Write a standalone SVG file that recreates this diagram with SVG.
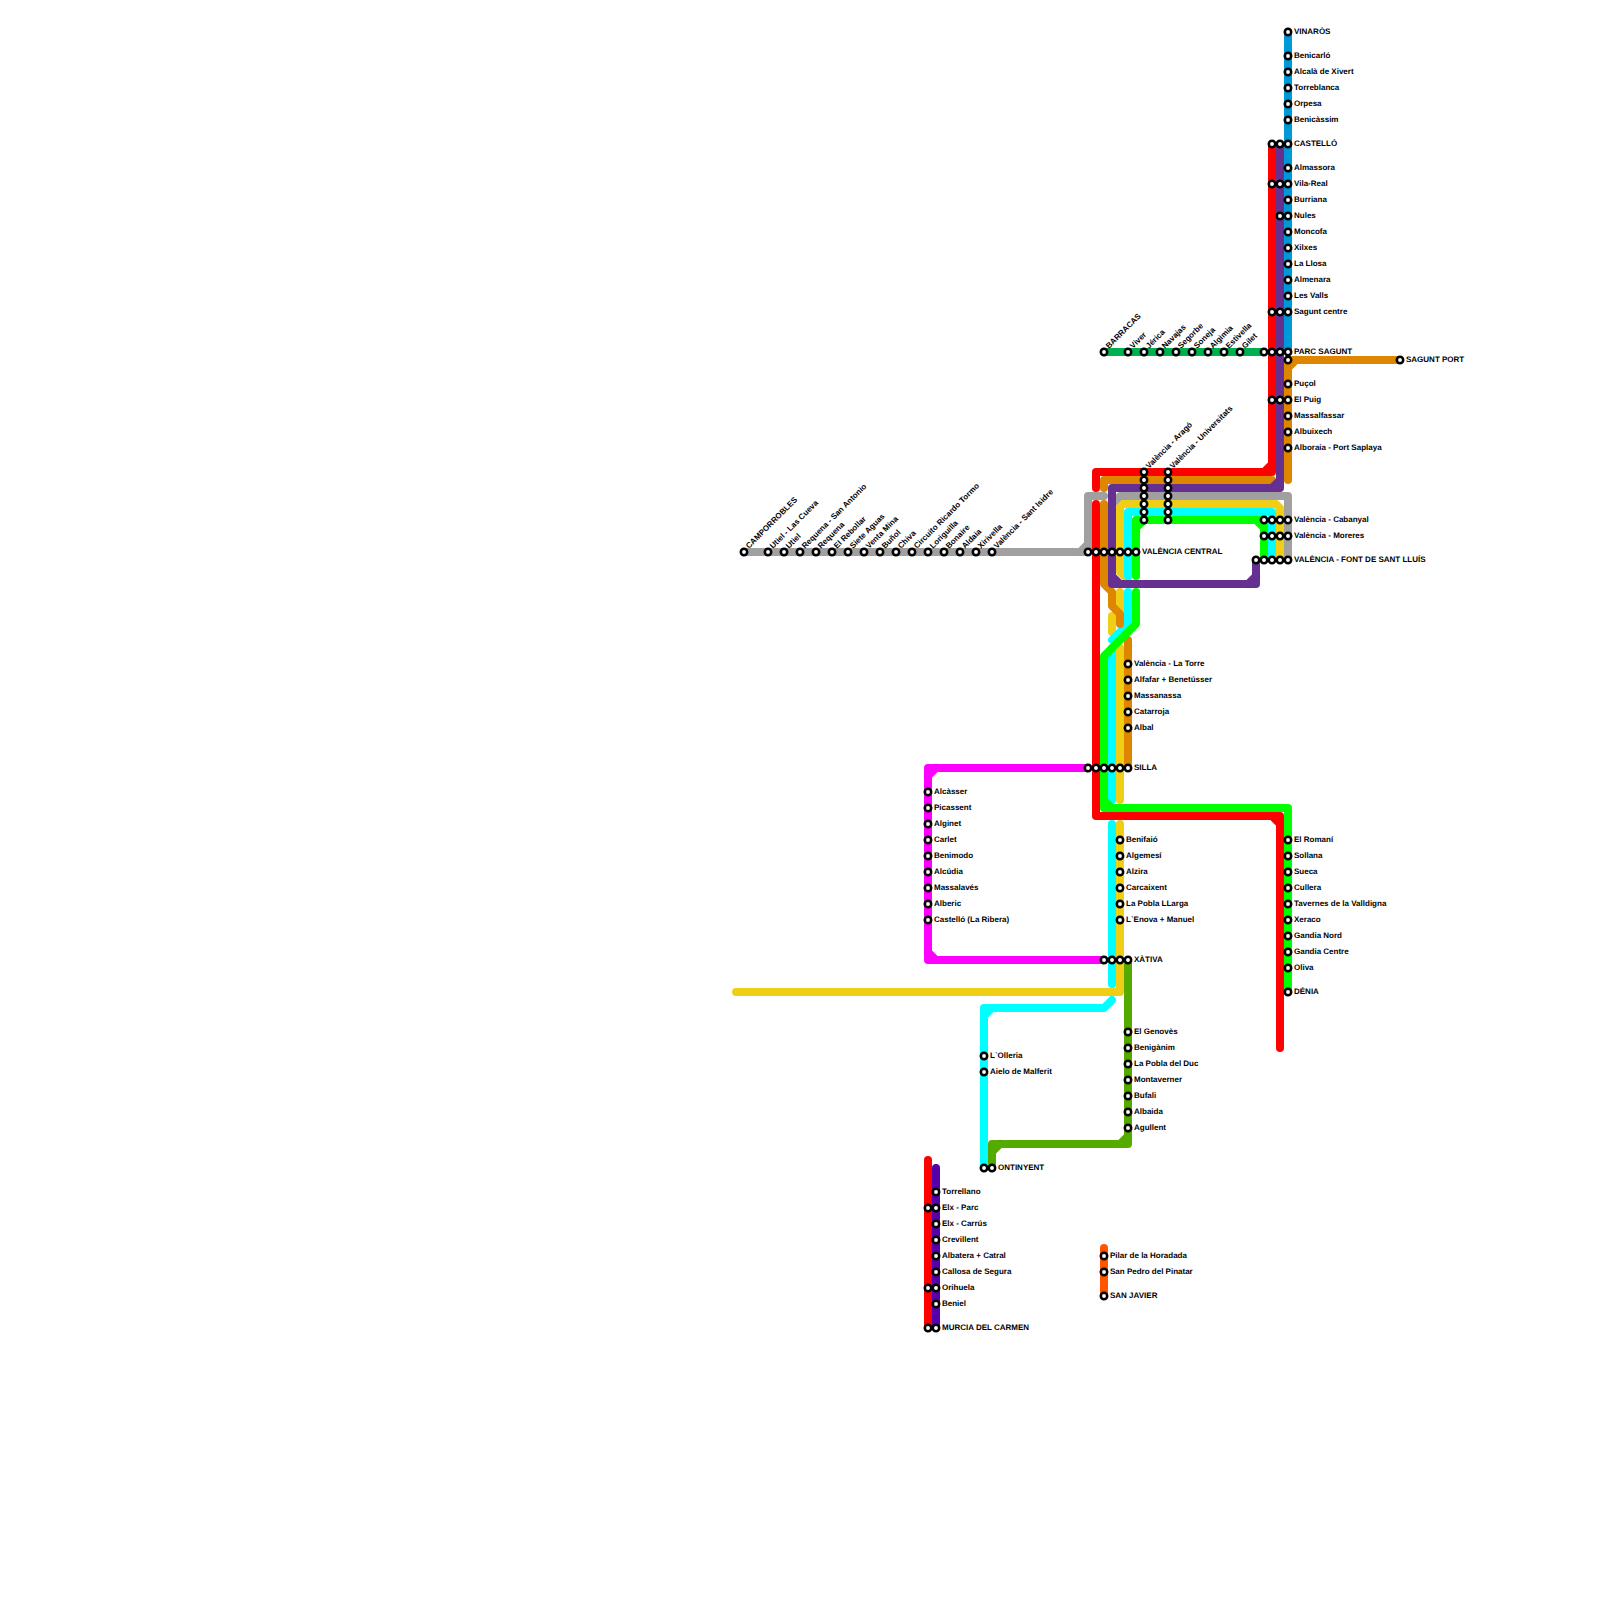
<svg xmlns="http://www.w3.org/2000/svg" width="1600" height="1600" viewBox="0 0 1600 1600">
<style>
.l{fill:none;stroke-width:8;stroke-linecap:round;stroke-linejoin:round}
circle{fill:#fff;stroke:#000;stroke-width:2.5}
text{font-family:"Liberation Sans",Arial,sans-serif;font-size:8px;font-weight:bold;fill:#000;text-rendering:geometricPrecision}
</style>
<rect width="1600" height="1600" fill="#fff"/>
<g id="connectors">
<path class="l" stroke="#ff00ff" d="M1088,768H928V960H1104M936,768L928,776M928,952L936,960"/>
<path class="l" stroke="#f0ce15" d="M1128,580L1120,572V504H1276L1280,508V560M1120,592V612M1112,616V632M1120,648V800M1120,824V992H736"/>
<path class="l" stroke="#a0a0a0" d="M744,552H1088V496H1104M1080,552L1088,544M1114,502L1120,496H1288V560"/>
<path class="l" stroke="#00ffff" d="M1128,576V512H1272V560M1128,592V624L1112,640M1112,648V800M1112,824V984M1112,1000L1104,1008H984V1168M984,1016L992,1008"/>
<path class="l" stroke="#df8600" d="M1272,480H1104V488M1104,504V584L1112,592V606L1120,614V624M1128,640V768M1400,360H1288V480M1288,368L1296,360"/>
<path class="l" stroke="#00ff00" d="M1136,576V520H1264V560M1136,528L1144,520M1256,520L1264,528M1136,592V624L1104,656V808H1288V992M1104,800L1112,808"/>
<path class="l" stroke="#ff0000" d="M1272,144V472H1096V488M1272,464L1264,472M1096,504V816H1280V1048M1272,816L1280,824"/>
<path class="l" stroke="#663090" d="M1280,144V488H1112V584H1256V560M1280,480L1272,488M1112,576L1120,584M1256,576L1248,584"/>
<path class="l" stroke="#0099d8" d="M1288,32V352"/>
<path class="l" stroke="#00b050" d="M1104,352H1264"/>
<path class="l" stroke="#55aa00" d="M1128,960V1144H992V1168M1128,1136L1120,1144M992,1152L1000,1144"/>
<path class="l" stroke="#ff0000" d="M928,1160V1328"/>
<path class="l" stroke="#5500aa" d="M936,1168V1328"/>
<path class="l" stroke="#ff5500" d="M1104,1248V1296"/>
</g>
<g id="n-campo"><circle cx="744" cy="552" r="3.2"/><text transform="translate(749,549) rotate(-45)">CAMPORROBLES</text></g>
<g id="n-lascueva"><circle cx="768" cy="552" r="3.2"/><text transform="translate(773,549) rotate(-45)">Utiel - Las Cueva</text></g>
<g id="n-utiel"><circle cx="784" cy="552" r="3.2"/><text transform="translate(789,549) rotate(-45)">Utiel</text></g>
<g id="n-reqsa"><circle cx="800" cy="552" r="3.2"/><text transform="translate(805,549) rotate(-45)">Requena - San Antonio</text></g>
<g id="n-req"><circle cx="816" cy="552" r="3.2"/><text transform="translate(821,549) rotate(-45)">Requena</text></g>
<g id="n-rebollar"><circle cx="832" cy="552" r="3.2"/><text transform="translate(837,549) rotate(-45)">El Rebollar</text></g>
<g id="n-siete"><circle cx="848" cy="552" r="3.2"/><text transform="translate(853,549) rotate(-45)">Siete Aguas</text></g>
<g id="n-venta"><circle cx="864" cy="552" r="3.2"/><text transform="translate(869,549) rotate(-45)">Venta Mina</text></g>
<g id="n-bunol"><circle cx="880" cy="552" r="3.2"/><text transform="translate(885,549) rotate(-45)">Buñol</text></g>
<g id="n-chiva"><circle cx="896" cy="552" r="3.2"/><text transform="translate(901,549) rotate(-45)">Chiva</text></g>
<g id="n-circuito"><circle cx="912" cy="552" r="3.2"/><text transform="translate(917,549) rotate(-45)">Circuito Ricardo Tormo</text></g>
<g id="n-lorig"><circle cx="928" cy="552" r="3.2"/><text transform="translate(933,549) rotate(-45)">Loriguilla</text></g>
<g id="n-bonaire"><circle cx="944" cy="552" r="3.2"/><text transform="translate(949,549) rotate(-45)">Bonaire</text></g>
<g id="n-aldaia"><circle cx="960" cy="552" r="3.2"/><text transform="translate(965,549) rotate(-45)">Aldaia</text></g>
<g id="n-xirivella"><circle cx="976" cy="552" r="3.2"/><text transform="translate(981,549) rotate(-45)">Xirivella</text></g>
<g id="n-isidre"><circle cx="992" cy="552" r="3.2"/><text transform="translate(997,549) rotate(-45)">València - Sant Isidre</text></g>
<g id="n-barracas"><circle cx="1104" cy="352" r="3.2"/><text transform="translate(1109,349) rotate(-45)">BARRACAS</text></g>
<g id="n-viver"><circle cx="1128" cy="352" r="3.2"/><text transform="translate(1133,349) rotate(-45)">Viver</text></g>
<g id="n-jerica"><circle cx="1144" cy="352" r="3.2"/><text transform="translate(1149,349) rotate(-45)">Jérica</text></g>
<g id="n-navajas"><circle cx="1160" cy="352" r="3.2"/><text transform="translate(1165,349) rotate(-45)">Navajas</text></g>
<g id="n-segorbe"><circle cx="1176" cy="352" r="3.2"/><text transform="translate(1181,349) rotate(-45)">Segorbe</text></g>
<g id="n-soneja"><circle cx="1192" cy="352" r="3.2"/><text transform="translate(1197,349) rotate(-45)">Soneja</text></g>
<g id="n-algimia"><circle cx="1208" cy="352" r="3.2"/><text transform="translate(1213,349) rotate(-45)">Algimia</text></g>
<g id="n-estivella"><circle cx="1224" cy="352" r="3.2"/><text transform="translate(1229,349) rotate(-45)">Estivella</text></g>
<g id="n-gilet"><circle cx="1240" cy="352" r="3.2"/><text transform="translate(1245,349) rotate(-45)">Gilet</text></g>
<g id="n-arago"><circle cx="1144" cy="472" r="3.2"/><circle cx="1144" cy="480" r="3.2"/><circle cx="1144" cy="488" r="3.2"/><circle cx="1144" cy="496" r="3.2"/><circle cx="1144" cy="504" r="3.2"/><circle cx="1144" cy="512" r="3.2"/><circle cx="1144" cy="520" r="3.2"/><text transform="translate(1149,469) rotate(-45)">València - Aragó</text></g>
<g id="n-univ"><circle cx="1168" cy="472" r="3.2"/><circle cx="1168" cy="480" r="3.2"/><circle cx="1168" cy="488" r="3.2"/><circle cx="1168" cy="496" r="3.2"/><circle cx="1168" cy="504" r="3.2"/><circle cx="1168" cy="512" r="3.2"/><circle cx="1168" cy="520" r="3.2"/><text transform="translate(1173,469) rotate(-45)">València - Universitats</text></g>
<g id="n-vinaros"><circle cx="1288" cy="32" r="3.2"/><text x="1294" y="33.5">VINARÒS</text></g>
<g id="n-benicarlo"><circle cx="1288" cy="56" r="3.2"/><text x="1294" y="57.5">Benicarló</text></g>
<g id="n-alcala"><circle cx="1288" cy="72" r="3.2"/><text x="1294" y="73.5">Alcalà de Xivert</text></g>
<g id="n-torreblanca"><circle cx="1288" cy="88" r="3.2"/><text x="1294" y="89.5">Torreblanca</text></g>
<g id="n-orpesa"><circle cx="1288" cy="104" r="3.2"/><text x="1294" y="105.5">Orpesa</text></g>
<g id="n-benicassim"><circle cx="1288" cy="120" r="3.2"/><text x="1294" y="121.5">Benicàssim</text></g>
<g id="n-castello"><circle cx="1272" cy="144" r="3.2"/><circle cx="1280" cy="144" r="3.2"/><circle cx="1288" cy="144" r="3.2"/><text x="1294" y="145.5">CASTELLÓ</text></g>
<g id="n-almassora"><circle cx="1288" cy="168" r="3.2"/><text x="1294" y="169.5">Almassora</text></g>
<g id="n-vilareal"><circle cx="1272" cy="184" r="3.2"/><circle cx="1280" cy="184" r="3.2"/><circle cx="1288" cy="184" r="3.2"/><text x="1294" y="185.5">Vila-Real</text></g>
<g id="n-burriana"><circle cx="1288" cy="200" r="3.2"/><text x="1294" y="201.5">Burriana</text></g>
<g id="n-nules"><circle cx="1280" cy="216" r="3.2"/><circle cx="1288" cy="216" r="3.2"/><text x="1294" y="217.5">Nules</text></g>
<g id="n-moncofa"><circle cx="1288" cy="232" r="3.2"/><text x="1294" y="233.5">Moncofa</text></g>
<g id="n-xilxes"><circle cx="1288" cy="248" r="3.2"/><text x="1294" y="249.5">Xilxes</text></g>
<g id="n-llosa"><circle cx="1288" cy="264" r="3.2"/><text x="1294" y="265.5">La Llosa</text></g>
<g id="n-almenara"><circle cx="1288" cy="280" r="3.2"/><text x="1294" y="281.5">Almenara</text></g>
<g id="n-valls"><circle cx="1288" cy="296" r="3.2"/><text x="1294" y="297.5">Les Valls</text></g>
<g id="n-saguntc"><circle cx="1272" cy="312" r="3.2"/><circle cx="1280" cy="312" r="3.2"/><circle cx="1288" cy="312" r="3.2"/><text x="1294" y="313.5">Sagunt centre</text></g>
<g id="n-parc"><circle cx="1264" cy="352" r="3.2"/><circle cx="1272" cy="352" r="3.2"/><circle cx="1280" cy="352" r="3.2"/><circle cx="1288" cy="352" r="3.2"/><circle cx="1288" cy="360" r="3.2"/><text x="1294" y="353.5">PARC SAGUNT</text></g>
<g id="n-port"><circle cx="1400" cy="360" r="3.2"/><text x="1406" y="361.5">SAGUNT PORT</text></g>
<g id="n-pucol"><circle cx="1288" cy="384" r="3.2"/><text x="1294" y="385.5">Puçol</text></g>
<g id="n-puig"><circle cx="1272" cy="400" r="3.2"/><circle cx="1280" cy="400" r="3.2"/><circle cx="1288" cy="400" r="3.2"/><text x="1294" y="401.5">El Puig</text></g>
<g id="n-massalf"><circle cx="1288" cy="416" r="3.2"/><text x="1294" y="417.5">Massalfassar</text></g>
<g id="n-albuixech"><circle cx="1288" cy="432" r="3.2"/><text x="1294" y="433.5">Albuixech</text></g>
<g id="n-alboraia"><circle cx="1288" cy="448" r="3.2"/><text x="1294" y="449.5">Alboraia - Port Saplaya</text></g>
<g id="n-cabanyal"><circle cx="1264" cy="520" r="3.2"/><circle cx="1272" cy="520" r="3.2"/><circle cx="1280" cy="520" r="3.2"/><circle cx="1288" cy="520" r="3.2"/><text x="1294" y="521.5">València - Cabanyal</text></g>
<g id="n-moreres"><circle cx="1264" cy="536" r="3.2"/><circle cx="1272" cy="536" r="3.2"/><circle cx="1280" cy="536" r="3.2"/><circle cx="1288" cy="536" r="3.2"/><text x="1294" y="537.5">València - Moreres</text></g>
<g id="n-font"><circle cx="1256" cy="560" r="3.2"/><circle cx="1264" cy="560" r="3.2"/><circle cx="1272" cy="560" r="3.2"/><circle cx="1280" cy="560" r="3.2"/><circle cx="1288" cy="560" r="3.2"/><text x="1294" y="561.5">VALÈNCIA - FONT DE SANT LLUÍS</text></g>
<g id="n-central"><circle cx="1088" cy="552" r="3.2"/><circle cx="1096" cy="552" r="3.2"/><circle cx="1104" cy="552" r="3.2"/><circle cx="1112" cy="552" r="3.2"/><circle cx="1120" cy="552" r="3.2"/><circle cx="1128" cy="552" r="3.2"/><circle cx="1136" cy="552" r="3.2"/><text x="1142" y="553.5">VALÈNCIA CENTRAL</text></g>
<g id="n-torre"><circle cx="1128" cy="664" r="3.2"/><text x="1134" y="665.5">València - La Torre</text></g>
<g id="n-alfafar"><circle cx="1128" cy="680" r="3.2"/><text x="1134" y="681.5">Alfafar + Benetússer</text></g>
<g id="n-massanassa"><circle cx="1128" cy="696" r="3.2"/><text x="1134" y="697.5">Massanassa</text></g>
<g id="n-catarroja"><circle cx="1128" cy="712" r="3.2"/><text x="1134" y="713.5">Catarroja</text></g>
<g id="n-albal"><circle cx="1128" cy="728" r="3.2"/><text x="1134" y="729.5">Albal</text></g>
<g id="n-silla"><circle cx="1088" cy="768" r="3.2"/><circle cx="1096" cy="768" r="3.2"/><circle cx="1104" cy="768" r="3.2"/><circle cx="1112" cy="768" r="3.2"/><circle cx="1120" cy="768" r="3.2"/><circle cx="1128" cy="768" r="3.2"/><text x="1134" y="769.5">SILLA</text></g>
<g id="n-alcasser"><circle cx="928" cy="792" r="3.2"/><text x="934" y="793.5">Alcàsser</text></g>
<g id="n-picassent"><circle cx="928" cy="808" r="3.2"/><text x="934" y="809.5">Picassent</text></g>
<g id="n-alginet"><circle cx="928" cy="824" r="3.2"/><text x="934" y="825.5">Alginet</text></g>
<g id="n-carlet"><circle cx="928" cy="840" r="3.2"/><text x="934" y="841.5">Carlet</text></g>
<g id="n-benimodo"><circle cx="928" cy="856" r="3.2"/><text x="934" y="857.5">Benimodo</text></g>
<g id="n-alcudia"><circle cx="928" cy="872" r="3.2"/><text x="934" y="873.5">Alcúdia</text></g>
<g id="n-massalaves"><circle cx="928" cy="888" r="3.2"/><text x="934" y="889.5">Massalavés</text></g>
<g id="n-alberic"><circle cx="928" cy="904" r="3.2"/><text x="934" y="905.5">Alberic</text></g>
<g id="n-castellor"><circle cx="928" cy="920" r="3.2"/><text x="934" y="921.5">Castelló (La Ribera)</text></g>
<g id="n-benifaio"><circle cx="1120" cy="840" r="3.2"/><text x="1126" y="841.5">Benifaió</text></g>
<g id="n-algemesi"><circle cx="1120" cy="856" r="3.2"/><text x="1126" y="857.5">Algemesí</text></g>
<g id="n-alzira"><circle cx="1120" cy="872" r="3.2"/><text x="1126" y="873.5">Alzira</text></g>
<g id="n-carcaixent"><circle cx="1120" cy="888" r="3.2"/><text x="1126" y="889.5">Carcaixent</text></g>
<g id="n-pobla"><circle cx="1120" cy="904" r="3.2"/><text x="1126" y="905.5">La Pobla LLarga</text></g>
<g id="n-enova"><circle cx="1120" cy="920" r="3.2"/><text x="1126" y="921.5">L`Enova + Manuel</text></g>
<g id="n-xativa"><circle cx="1104" cy="960" r="3.2"/><circle cx="1112" cy="960" r="3.2"/><circle cx="1120" cy="960" r="3.2"/><circle cx="1128" cy="960" r="3.2"/><text x="1134" y="961.5">XÀTIVA</text></g>
<g id="n-romani"><circle cx="1288" cy="840" r="3.2"/><text x="1294" y="841.5">El Romaní</text></g>
<g id="n-sollana"><circle cx="1288" cy="856" r="3.2"/><text x="1294" y="857.5">Sollana</text></g>
<g id="n-sueca"><circle cx="1288" cy="872" r="3.2"/><text x="1294" y="873.5">Sueca</text></g>
<g id="n-cullera"><circle cx="1288" cy="888" r="3.2"/><text x="1294" y="889.5">Cullera</text></g>
<g id="n-tavernes"><circle cx="1288" cy="904" r="3.2"/><text x="1294" y="905.5">Tavernes de la Valldigna</text></g>
<g id="n-xeraco"><circle cx="1288" cy="920" r="3.2"/><text x="1294" y="921.5">Xeraco</text></g>
<g id="n-gnord"><circle cx="1288" cy="936" r="3.2"/><text x="1294" y="937.5">Gandia Nord</text></g>
<g id="n-gcentre"><circle cx="1288" cy="952" r="3.2"/><text x="1294" y="953.5">Gandia Centre</text></g>
<g id="n-oliva"><circle cx="1288" cy="968" r="3.2"/><text x="1294" y="969.5">Oliva</text></g>
<g id="n-denia"><circle cx="1288" cy="992" r="3.2"/><text x="1294" y="993.5">DÉNIA</text></g>
<g id="n-genoves"><circle cx="1128" cy="1032" r="3.2"/><text x="1134" y="1033.5">El Genovès</text></g>
<g id="n-beniganim"><circle cx="1128" cy="1048" r="3.2"/><text x="1134" y="1049.5">Benigànim</text></g>
<g id="n-pobladuc"><circle cx="1128" cy="1064" r="3.2"/><text x="1134" y="1065.5">La Pobla del Duc</text></g>
<g id="n-montaverner"><circle cx="1128" cy="1080" r="3.2"/><text x="1134" y="1081.5">Montaverner</text></g>
<g id="n-bufali"><circle cx="1128" cy="1096" r="3.2"/><text x="1134" y="1097.5">Bufali</text></g>
<g id="n-albaida"><circle cx="1128" cy="1112" r="3.2"/><text x="1134" y="1113.5">Albaida</text></g>
<g id="n-agullent"><circle cx="1128" cy="1128" r="3.2"/><text x="1134" y="1129.5">Agullent</text></g>
<g id="n-olleria"><circle cx="984" cy="1056" r="3.2"/><text x="990" y="1057.5">L`Olleria</text></g>
<g id="n-aielo"><circle cx="984" cy="1072" r="3.2"/><text x="990" y="1073.5">Aielo de Malferit</text></g>
<g id="n-ontinyent"><circle cx="984" cy="1168" r="3.2"/><circle cx="992" cy="1168" r="3.2"/><text x="998" y="1169.5">ONTINYENT</text></g>
<g id="n-torrellano"><circle cx="936" cy="1192" r="3.2"/><text x="942" y="1193.5">Torrellano</text></g>
<g id="n-elxp"><circle cx="928" cy="1208" r="3.2"/><circle cx="936" cy="1208" r="3.2"/><text x="942" y="1209.5">Elx - Parc</text></g>
<g id="n-elxc"><circle cx="936" cy="1224" r="3.2"/><text x="942" y="1225.5">Elx - Carrús</text></g>
<g id="n-crevillent"><circle cx="936" cy="1240" r="3.2"/><text x="942" y="1241.5">Crevillent</text></g>
<g id="n-albatera"><circle cx="936" cy="1256" r="3.2"/><text x="942" y="1257.5">Albatera + Catral</text></g>
<g id="n-callosa"><circle cx="936" cy="1272" r="3.2"/><text x="942" y="1273.5">Callosa de Segura</text></g>
<g id="n-orihuela"><circle cx="928" cy="1288" r="3.2"/><circle cx="936" cy="1288" r="3.2"/><text x="942" y="1289.5">Orihuela</text></g>
<g id="n-beniel"><circle cx="936" cy="1304" r="3.2"/><text x="942" y="1305.5">Beniel</text></g>
<g id="n-murcia"><circle cx="928" cy="1328" r="3.2"/><circle cx="936" cy="1328" r="3.2"/><text x="942" y="1329.5">MURCIA DEL CARMEN</text></g>
<g id="n-pilar"><circle cx="1104" cy="1256" r="3.2"/><text x="1110" y="1257.5">Pilar de la Horadada</text></g>
<g id="n-sanpedro"><circle cx="1104" cy="1272" r="3.2"/><text x="1110" y="1273.5">San Pedro del Pinatar</text></g>
<g id="n-sanjavier"><circle cx="1104" cy="1296" r="3.2"/><text x="1110" y="1297.5">SAN JAVIER</text></g>
</svg>
